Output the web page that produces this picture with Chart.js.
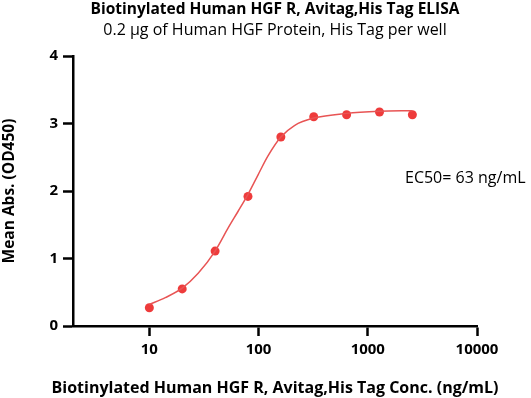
<!DOCTYPE html>
<html>
<head>
<meta charset="utf-8">
<script src="https://cdn.jsdelivr.net/npm/chart.js@4.4.1/dist/chart.umd.min.js"></script>
<style>
  body { margin: 0; background: #fff; }
  #chartArea { width: 531px; height: 398px; }
</style>
</head>
<body>
<div id="chartArea"><canvas id="elisaChart"></canvas></div>
<script>
const concentrations = [10, 20, 40, 80, 160, 320, 640, 1280, 2560];
const meanAbs = [0.27, 0.55, 1.11, 1.92, 2.80, 3.10, 3.13, 3.17, 3.13];

// fitted curve at these concentrations
const fitConc = [10, 14, 20, 28, 40, 53, 65, 80, 99, 122, 160, 213, 320, 640, 1280, 2560];
const fitAbs = [0.32, 0.42, 0.56, 0.78, 1.11, 1.46, 1.70, 1.95, 2.24, 2.52, 2.80, 2.97, 3.08, 3.15, 3.18, 3.19];

const xTicks = [10, 100, 1000, 10000];
const yTicks = [0, 1, 2, 3, 4];

const titleText = 'Biotinylated Human HGF R, Avitag,His Tag ELISA';
const subtitleText = '0.2 \u00b5g of Human HGF Protein, His Tag per well';
const xTitle = 'Biotinylated Human HGF R, Avitag,His Tag Conc. (ng/mL)';
const yTitle = 'Mean Abs. (OD450)';
const ec50Text = 'EC50= 63 ng/mL';

const fontFamily = "'Open Sans', sans-serif";
const red = '#ee3b3b';

// titles are centred over the plot area (not the canvas), plus the EC50 note.
// the x title is drawn here too, since the scale title gets squeezed to the axis width
const chartTexts = {
  id: 'chartTexts',
  afterDatasetsDraw(chart) {
    const ctx = chart.ctx;
    const area = chart.chartArea;
    const midX = (area.left + area.right) / 2;
    ctx.save();
    ctx.fillStyle = '#000';
    ctx.textBaseline = 'alphabetic';
    ctx.textAlign = 'center';
    ctx.font = "bold 15.5px 'Open Sans'";
    ctx.fillText(titleText, midX, 14);
    ctx.font = "16px 'Open Sans'";
    ctx.fillText(subtitleText, midX, 35);
    ctx.font = "bold 16px 'Open Sans'";
    ctx.fillText(xTitle, midX, 393);
    ctx.textAlign = 'left';
    ctx.font = "16px 'Open Sans'";
    ctx.fillText(ec50Text, 405, 183);
    ctx.restore();
  }
};

const ctx = document.getElementById('elisaChart').getContext('2d');
const elisaChart = new Chart(ctx, {
  type: 'scatter',
  data: {
    datasets: [
      {
        label: 'Fit',
        data: fitConc.map((c, i) => ({ x: c, y: fitAbs[i] })),
        showLine: true,
        borderColor: '#e85454',
        borderWidth: 1.5,
        pointRadius: 0,
        cubicInterpolationMode: 'monotone',
        fill: false,
      },
      {
        label: 'Mean Abs.',
        data: concentrations.map((c, i) => ({ x: c, y: meanAbs[i] })),
        showLine: false,
        pointRadius: 4.5,
        pointBackgroundColor: red,
        pointBorderColor: red,
        pointBorderWidth: 0,
      },
    ],
  },
  options: {
    responsive: true,
    maintainAspectRatio: false,
    animation: false,
    layout: { padding: { left: 0, right: 54, top: 56, bottom: 0 } },
    plugins: {
      legend: { display: false },
      tooltip: { enabled: false },
    },
    scales: {
      x: {
        type: 'logarithmic',
        min: 2,
        max: 10000,
        afterBuildTicks: (scale) => {
          scale.ticks = xTicks.map(v => ({ value: v }));
        },
        afterFit: (scale) => { scale.height = 72; },
        ticks: {
          color: '#000',
          font: { family: fontFamily, size: 15, weight: 'bold' },
          padding: 5,
          maxRotation: 0,
          autoSkip: false,
          callback: (v) => String(v),
        },
        grid: { drawOnChartArea: false, drawTicks: true, tickLength: 10, tickWidth: 2.5, color: '#000' },
        border: { display: true, color: '#000', width: 2.5 },
        title: { display: false },
      },
      y: {
        min: 0,
        max: 4,
        afterBuildTicks: (scale) => {
          scale.ticks = yTicks.map(v => ({ value: v }));
        },
        afterFit: (scale) => { scale.width = 73; },
        ticks: {
          color: '#000',
          font: { family: fontFamily, size: 15, weight: 'bold' },
          padding: 5,
        },
        grid: { drawOnChartArea: false, drawTicks: true, tickLength: 10, tickWidth: 2.5, color: '#000' },
        border: { display: true, color: '#000', width: 2.5 },
        title: {
          display: true,
          text: yTitle,
          color: '#000',
          font: { family: fontFamily, size: 15.5, weight: 'bold' },
          padding: { top: 0.5, bottom: 0 },
        },
      },
    },
  },
  plugins: [chartTexts],
});
</script>
</body>
</html>
